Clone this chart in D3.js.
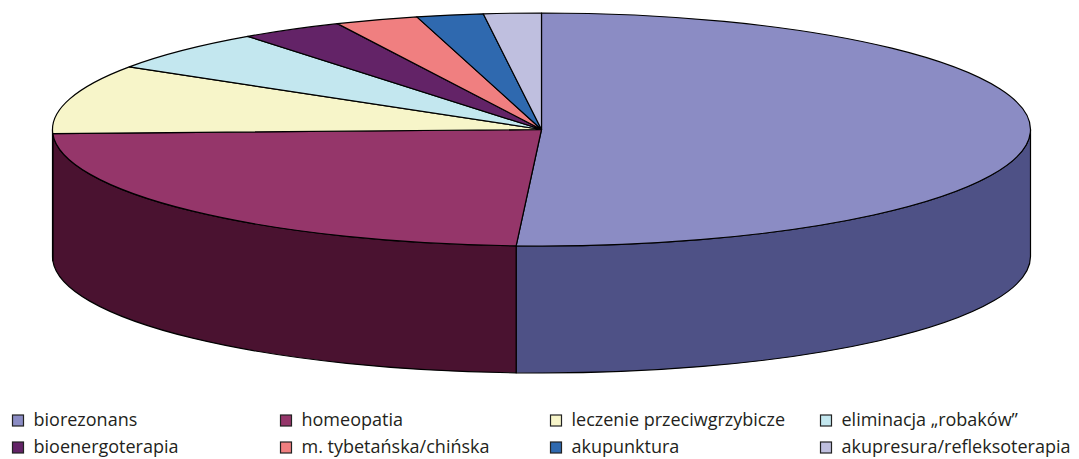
<!DOCTYPE html>
<html><head><meta charset="utf-8">
<script src="https://cdn.jsdelivr.net/npm/d3@7/dist/d3.min.js"></script>
<style>body{margin:0;background:#fff}svg{display:block}</style>
</head><body>
<svg id="c" width="1079" height="459"></svg>
<script>
const categories = ["biorezonans","homeopatia","leczenie przeciwgrzybicze","eliminacja „robaków”","bioenergoterapia","m. tybetańska/chińska","akupunktura","akupresura/refleksoterapia"];
const values = [50.8, 23.6, 9.6, 5.7, 3.4, 2.75, 2.2, 1.9];
const topColors = ["#8B8CC4","#95366A","#F7F5C9","#C3E7EF","#632367","#F07F80","#2F69AF","#BFBFDF"];
const sideColors = ["#4E5186","#4A1230","#8a8870","#6c8186","#371339","#864748","#1a3b62","#6b6b7d"];

const svg = d3.select("#c");
const cx = 541.5, cy = 129.5, rx = 489, ry = 116.5, depth = 127;

const pie = d3.pie().sort(null).value(d => d)(values);
const ang = d3.scaleLinear().domain([0, 2*Math.PI]).range([0, 2*Math.PI]);
const px = t => cx + rx*Math.sin(ang(t));
const py = t => cy - ry*Math.cos(ang(t));

const g = svg.append("g");
const sides = pie.map((p,i) => {
  const a = Math.max(p.startAngle, Math.PI/2), b = Math.min(p.endAngle, 3*Math.PI/2);
  return {i, a, b};
}).filter(s => s.b > s.a);
g.selectAll("path.side").data(sides).join("path").attr("class","side")
  .attr("d", s => {
    const large = (s.b - s.a) > Math.PI ? 1 : 0;
    return `M${px(s.a)},${py(s.a)} A${rx},${ry} 0 ${large} 1 ${px(s.b)},${py(s.b)} L${px(s.b)},${py(s.b)+depth} A${rx},${ry} 0 ${large} 0 ${px(s.a)},${py(s.a)+depth} Z`;
  })
  .attr("fill", s => sideColors[s.i]).attr("stroke","#000").attr("stroke-width",1.2).attr("stroke-linejoin","round");

g.selectAll("path.top").data(pie).join("path").attr("class","top")
  .attr("d", p => {
    const large = (p.endAngle - p.startAngle) > Math.PI ? 1 : 0;
    return `M${cx},${cy} L${px(p.startAngle)},${py(p.startAngle)} A${rx},${ry} 0 ${large} 1 ${px(p.endAngle)},${py(p.endAngle)} Z`;
  })
  .attr("fill", (p,i) => topColors[i]).attr("stroke","#000").attr("stroke-width",1.2).attr("stroke-linejoin","round");

const colX = [12, 280, 550, 820];
const rowY = [420.5, 447.5];
const lg = svg.append("g");
categories.forEach((c,i) => {
  const col = i % 4, row = Math.floor(i/4);
  const item = lg.append("g").attr("transform", `translate(${colX[col]},${rowY[row]})`);
  item.append("rect").attr("x",0.5).attr("y",-5.5).attr("width",11).attr("height",11)
    .attr("fill", topColors[i]).attr("stroke","#222").attr("stroke-width",1.2);
  item.append("text").attr("x",21.5).attr("y",0).attr("dy","0.32em")
    .attr("font-family","'Open Sans', sans-serif").attr("font-size",18).attr("fill","#231F20").text(c);
});
</script>
</body></html>
